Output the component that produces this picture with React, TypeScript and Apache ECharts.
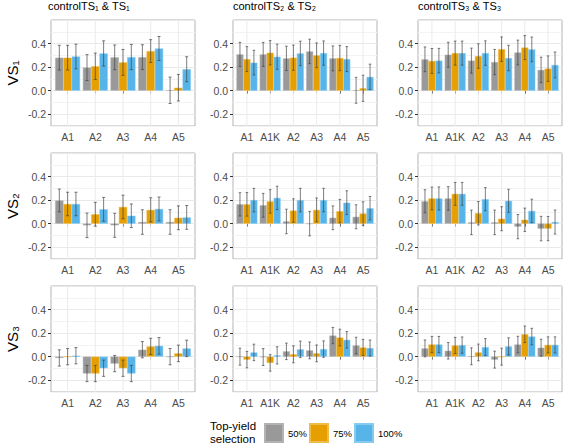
import React, { useEffect, useRef } from "react";
import * as echarts from "echarts";

const FONT = "'Liberation Sans', Arial, Helvetica, sans-serif";

const groups = ["50%", "75%", "100%"];
const groupColors = ["#999999", "#E69F00", "#56B4E9"];
const groupBorders = ["#b3b3b3", "#efbb4a", "#86caf0"];
const cats5 = ["A1", "A2", "A3", "A4", "A5"];
const cats6 = ["A1", "A1K", "A2", "A3", "A4", "A5"];
const colTitles = ["controlTS₁ & TS₁", "controlTS₂ & TS₂", "controlTS₃ & TS₃"];
const rowTitles = ["VS₁", "VS₂", "VS₃"];
const yTicks = [-0.2, 0, 0.2, 0.4];
const legendTitle = "Top-yield\nselection";

// Means per group: [50%, 75%, 100%]; errors are half-widths of the error bars
const vs1ts1Mean = [
  [0.28, 0.196, 0.283, 0.285, 0.003],
  [0.28, 0.207, 0.24, 0.336, 0.025],
  [0.29, 0.316, 0.285, 0.358, 0.182],
];
const vs1ts1Err = [
  [0.105, 0.11, 0.105, 0.105, 0.112],
  [0.105, 0.112, 0.11, 0.097, 0.113],
  [0.105, 0.107, 0.107, 0.102, 0.106],
];
const vs1ts2Mean = [
  [0.308, 0.308, 0.274, 0.333, 0.274, 0.003],
  [0.268, 0.322, 0.28, 0.3, 0.277, 0.02],
  [0.238, 0.288, 0.316, 0.319, 0.268, 0.117],
];
const vs1ts2Err = [
  [0.102, 0.102, 0.103, 0.104, 0.106, 0.11],
  [0.106, 0.103, 0.107, 0.105, 0.107, 0.111],
  [0.105, 0.107, 0.104, 0.103, 0.106, 0.108],
];
const vs1ts3Mean = [
  [0.266, 0.305, 0.255, 0.243, 0.324, 0.176],
  [0.252, 0.319, 0.294, 0.352, 0.366, 0.187],
  [0.255, 0.319, 0.319, 0.277, 0.35, 0.218],
];
const vs1ts3Err = [
  [0.105, 0.106, 0.106, 0.107, 0.105, 0.108],
  [0.106, 0.102, 0.104, 0.104, 0.102, 0.108],
  [0.104, 0.102, 0.104, 0.108, 0.105, 0.11],
];
const vs2ts1Mean = [
  [0.197, -0.014, -0.014, 0.014, 0.014],
  [0.167, 0.08, 0.142, 0.117, 0.05],
  [0.167, 0.122, 0.067, 0.125, 0.053],
];
const vs2ts1Err = [
  [0.097, 0.104, 0.102, 0.104, 0.104],
  [0.1, 0.101, 0.1, 0.103, 0.101],
  [0.1, 0.101, 0.1, 0.101, 0.101],
];
const vs2ts2Mean = [
  [0.164, 0.156, 0.019, 0.0, 0.05, 0.058],
  [0.164, 0.189, 0.111, 0.117, 0.106, 0.086],
  [0.2, 0.219, 0.2, 0.2, 0.178, 0.131],
];
const vs2ts2Err = [
  [0.099, 0.101, 0.104, 0.104, 0.101, 0.102],
  [0.1, 0.1, 0.1, 0.101, 0.1, 0.1],
  [0.1, 0.099, 0.1, 0.1, 0.101, 0.1],
];
const vs2ts3Mean = [
  [0.19, 0.214, 0.011, 0.011, -0.025, -0.042],
  [0.214, 0.253, 0.089, 0.042, 0.033, -0.042],
  [0.214, 0.253, 0.208, 0.194, 0.108, 0.014],
];
const vs2ts3Err = [
  [0.098, 0.1, 0.104, 0.104, 0.103, 0.104],
  [0.097, 0.097, 0.099, 0.102, 0.099, 0.103],
  [0.098, 0.097, 0.098, 0.098, 0.1, 0.102],
];
const vs3ts1Mean = [
  [-0.011, -0.143, -0.059, 0.059, 0.0],
  [0.0, -0.143, -0.098, 0.087, 0.028],
  [0.008, -0.098, -0.143, 0.092, 0.07],
];
const vs3ts1Err = [
  [0.069, 0.069, 0.069, 0.069, 0.069],
  [0.069, 0.069, 0.069, 0.069, 0.07],
  [0.069, 0.069, 0.069, 0.07, 0.07],
];
const vs3ts2Mean = [
  [0.0, -0.003, 0.045, 0.053, 0.179, 0.095],
  [-0.025, -0.053, 0.02, 0.028, 0.162, 0.078],
  [0.036, 0.011, 0.062, 0.064, 0.143, 0.073],
];
const vs3ts2Err = [
  [0.072, 0.072, 0.07, 0.071, 0.069, 0.07],
  [0.07, 0.07, 0.072, 0.071, 0.071, 0.069],
  [0.07, 0.073, 0.07, 0.07, 0.07, 0.068],
];
const vs3ts3Mean = [
  [0.07, 0.05, 0.003, -0.025, 0.103, 0.076],
  [0.103, 0.095, 0.036, 0.0, 0.19, 0.1],
  [0.103, 0.098, 0.081, 0.087, 0.171, 0.1],
];
const vs3ts3Err = [
  [0.072, 0.07, 0.072, 0.072, 0.07, 0.072],
  [0.069, 0.069, 0.071, 0.072, 0.07, 0.068],
  [0.069, 0.069, 0.072, 0.073, 0.07, 0.068],
];

const panels = [
  { row: 0, col: 0, cats: cats5, mean: vs1ts1Mean, err: vs1ts1Err },
  { row: 0, col: 1, cats: cats6, mean: vs1ts2Mean, err: vs1ts2Err },
  { row: 0, col: 2, cats: cats6, mean: vs1ts3Mean, err: vs1ts3Err },
  { row: 1, col: 0, cats: cats5, mean: vs2ts1Mean, err: vs2ts1Err },
  { row: 1, col: 1, cats: cats6, mean: vs2ts2Mean, err: vs2ts2Err },
  { row: 1, col: 2, cats: cats6, mean: vs2ts3Mean, err: vs2ts3Err },
  { row: 2, col: 0, cats: cats5, mean: vs3ts1Mean, err: vs3ts1Err },
  { row: 2, col: 1, cats: cats6, mean: vs3ts2Mean, err: vs3ts2Err },
  { row: 2, col: 2, cats: cats6, mean: vs3ts3Mean, err: vs3ts3Err },
];

const PW = 144;
const PH = 106;
const colLeft = [51, 233, 418];
const titleLeft = [48, 233, 418];
const rowTop = [20, 153, 286];
const Y_MIN = -0.3;
const Y_MAX = 0.6;

function buildOption() {
  const grid: any[] = [];
  const xAxis: any[] = [];
  const yAxis: any[] = [];
  const series: any[] = [];

  panels.forEach((p) => {
    const left = colLeft[p.col];
    const top = rowTop[p.row];
    const n = p.cats.length;
    const unit = PW / (n + 0.2);

    const bgG = grid.length;
    grid.push({
      left, top, width: PW, height: PH, show: true,
      borderColor: "#b3b3b3", borderWidth: 1, backgroundColor: "#ffffff",
    });
    const barG = grid.length;
    grid.push({ left: left + 0.1 * unit, top, width: unit * n, height: PH, show: false });

    xAxis.push({ type: "value", gridIndex: bgG, min: 0, max: 1, show: false });
    const barX = xAxis.length;
    xAxis.push({
      type: "category", gridIndex: barG, data: p.cats,
      axisLine: { show: false },
      axisTick: { show: true, alignWithLabel: true, length: 3, lineStyle: { color: "#333333", width: 1 } },
      axisLabel: { interval: 0, margin: 5, fontSize: 10.5, color: "#4d4d4d", fontFamily: FONT },
      splitLine: { show: false },
    });

    yAxis.push({
      type: "value", gridIndex: bgG, min: Y_MIN, max: Y_MAX, interval: 0.1, position: "left",
      axisLine: { show: false }, axisTick: { show: false }, axisLabel: { show: false },
      splitLine: { show: true, lineStyle: { color: ["#f3f3f3", "#e9e9e9"], width: 1 } },
    });
    yAxis.push({
      type: "value", gridIndex: bgG, min: Y_MIN, max: Y_MAX, position: "left",
      axisLine: { show: false },
      axisTick: { show: true, length: 3, customValues: yTicks, lineStyle: { color: "#333333", width: 1 } },
      axisLabel: {
        customValues: yTicks, margin: 5, fontSize: 10.5, color: "#4d4d4d", fontFamily: FONT,
        formatter: (v: number) => (yTicks.some((t) => Math.abs(t - v) < 1e-6) ? v.toFixed(1) : ""),
      },
      splitLine: { show: false },
      name: p.col === 0 ? rowTitles[p.row] : "",
      nameLocation: "middle", nameGap: 31, nameRotate: 90,
      nameTextStyle: { fontSize: 15, color: "#000000", fontFamily: FONT },
    });
    const barY = yAxis.length;
    yAxis.push({ type: "value", gridIndex: barG, min: Y_MIN, max: Y_MAX, show: false });

    // vertical major grid lines at category centres
    series.push({
      type: "custom", xAxisIndex: barX, yAxisIndex: barY, z: 1, silent: true,
      data: p.cats.map((_, i) => [i, 0]),
      encode: { x: 0, y: 1 },
      renderItem: (params: any, api: any) => {
        const x = api.coord([api.value(0), 0])[0];
        const cs = params.coordSys;
        return {
          type: "line",
          shape: { x1: x, y1: cs.y, x2: x, y2: cs.y + cs.height },
          style: { stroke: "#ebebeb", lineWidth: 1 },
        };
      },
    });

    groups.forEach((g, gi) => {
      series.push({
        type: "bar", name: g, xAxisIndex: barX, yAxisIndex: barY, z: 2, silent: true,
        data: p.mean[gi], barWidth: "30%", barGap: "0%",
        itemStyle: { color: groupColors[gi], borderColor: groupBorders[gi], borderWidth: 0.5 },
      });
    });

    const errData: number[][] = [];
    groups.forEach((_, gi) => {
      p.mean[gi].forEach((m, ci) => {
        const e = p.err[gi][ci];
        errData.push([ci, gi, m - e, m + e]);
      });
    });
    series.push({
      type: "custom", xAxisIndex: barX, yAxisIndex: barY, z: 3, silent: true,
      data: errData,
      dimensions: ["x", "g", "lo", "hi"],
      encode: { x: 0, y: [2, 3] },
      renderItem: (params: any, api: any) => {
        const ci = api.value(0);
        const gi = api.value(1);
        const band = api.size([1, 0])[0];
        const cx = api.coord([ci, 0])[0] + (gi - 1) * band * 0.3;
        const yLo = api.coord([ci, api.value(2)])[1];
        const yHi = api.coord([ci, api.value(3)])[1];
        const cap = band * 0.055;
        const st = { stroke: "#404040", lineWidth: 0.8, opacity: 0.85 };
        return {
          type: "group",
          children: [
            { type: "line", shape: { x1: cx, y1: yLo, x2: cx, y2: yHi }, style: st },
            { type: "line", shape: { x1: cx - cap, y1: yLo, x2: cx + cap, y2: yLo }, style: st },
            { type: "line", shape: { x1: cx - cap, y1: yHi, x2: cx + cap, y2: yHi }, style: st },
          ],
        };
      },
    });
  });

  return {
    animation: false,
    backgroundColor: "#ffffff",
    textStyle: { fontFamily: FONT },
    title: [
      ...colTitles.map((t, i) => ({
        text: t, left: titleLeft[i], top: 0, padding: 0,
        textStyle: { fontSize: 11, fontWeight: "normal", color: "#000000", fontFamily: FONT },
      })),
      {
        text: legendTitle, left: 210, top: 419, padding: 0,
        textStyle: { fontSize: 11.5, lineHeight: 13, fontWeight: "normal", color: "#000000", fontFamily: FONT },
      },
    ],
    legend: {
      data: groups.map((name) => ({ name, icon: "rect" })),
      left: 264, top: 423, padding: 0, itemWidth: 18, itemHeight: 18, itemGap: 2,
      selectedMode: false,
      textStyle: { fontSize: 9.5, color: "#000000", fontFamily: FONT },
    },
    grid, xAxis, yAxis, series,
  };
}

export default function App() {
  const ref = useRef<HTMLDivElement>(null);
  useEffect(() => {
    if (!ref.current) return;
    const chart = echarts.init(ref.current, undefined, { renderer: "svg" });
    chart.setOption(buildOption() as any);
    return () => chart.dispose();
  }, []);
  return (
    <div
      ref={ref}
      style={{ position: "fixed", left: 0, top: 0, width: 566, height: 446, background: "#fff" }}
    />
  );
}
